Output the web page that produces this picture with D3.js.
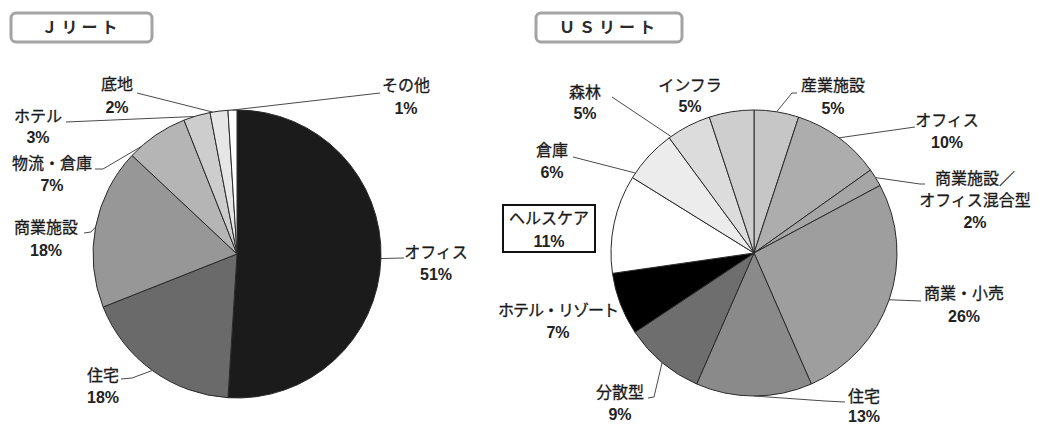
<!DOCTYPE html>
<html lang="ja">
<head>
<meta charset="utf-8">
<script src="https://cdn.jsdelivr.net/npm/d3@7"></script>
<style>
  html, body { margin: 0; padding: 0; background: #fff; }
  svg { display: block; }
  .name { font-family: "Noto Sans CJK JP", sans-serif; font-size: 16px; fill: #1a1a1a; stroke: #1a1a1a; stroke-width: 0.3px; }
  .pct { font-family: "Liberation Sans", Arial, sans-serif; font-size: 16px; font-weight: bold; fill: #222; }
  .title { font-family: "Noto Sans CJK JP", sans-serif; font-size: 16px; font-weight: bold; fill: #2a2a2a; }
</style>
</head>
<body>
<svg id="chart" width="1063" height="426"></svg>
<script>
// J-REIT holdings by property type (%)
const jCategories = ["オフィス", "住宅", "商業施設", "物流・倉庫", "ホテル", "底地", "その他"];
const jValues = [51, 18, 18, 7, 3, 2, 1];

// US-REIT holdings by property type (%)
const usCategories = ["産業施設", "オフィス", "商業施設／\nオフィス混合型", "商業・小売", "住宅", "分散型",
  "ホテル・リゾート", "ヘルスケア", "倉庫", "森林", "インフラ"];
const usValues = [5, 10, 2, 26, 13, 9, 7, 11, 6, 5, 5];

const titles = ["Ｊリート", "ＵＳリート"];

// slice fills
const jFills = ["#1b1b1b", "#6a6a6a", "#979797", "#b5b5b5", "#cdcdcd", "#e6e6e6", "#ffffff"];
const usFills = ["#c6c6c6", "#adadad", "#a6a6a6", "#9e9e9e", "#8a8a8a", "#6e6e6e",
  "#000000", "#ffffff", "#ececec", "#dcdcdc", "#cecece"];

// label placement: name centre (x, y), percent y, leader path from the label side, and
// t = where within the slice the leader meets the rim
const jLabels = [
  { x: 436, y: 252, py: 274, leader: [[404, 258]], t: 0.5 },
  { x: 103, y: 375, py: 397, leader: [[121, 379], [132, 378]], t: 0.5 },
  { x: 46,  y: 227, py: 250, leader: [[84, 233], [91, 232]], t: 0.5 },
  { x: 52,  y: 163, py: 185, leader: [[95, 169], [103, 169]], t: 0.2 },
  { x: 38,  y: 116, py: 137, leader: [[66, 122]], t: 0.4 },
  { x: 117, y: 84,  py: 107, leader: [[137, 93]], t: 0.15 },
  { x: 406, y: 85,  py: 108, leader: [[380, 93]], t: 0.5 }
];
const usLabels = [
  { x: 833, y: 85,  py: 108, leader: [[797, 93], [792, 93]], t: 0.5 },
  { x: 947, y: 120, py: 142, leader: [[915, 127]], t: 0.5 },
  { x: 975, y: 178, py: 222, leader: [[925, 184], [920, 184]], t: 0.5 },
  { x: 964, y: 293, py: 316, leader: [[921, 301]], t: 0.5 },
  { x: 864, y: 396, py: 416, leader: [[845, 402], [825, 401]], t: 0.5 },
  { x: 620, y: 392, py: 414, leader: [[648, 398], [654, 397]], t: 0.5 },
  { x: 558, y: 310, py: 332, leader: null, spacing: -1 },
  { x: 549, y: 218, py: 241, leader: null, boxed: true },
  { x: 552, y: 150, py: 172, leader: [[573, 157]], t: 0.1 },
  { x: 585, y: 92,  py: 113, leader: [[612, 97]], t: 0.05 },
  { x: 690, y: 85,  py: 106, leader: null }
];

const svg = d3.select("#chart");

function drawTitle(text, x, y, w, h) {
  const g = svg.append("g");
  g.append("rect")
    .attr("x", x).attr("y", y).attr("width", w).attr("height", h)
    .attr("rx", 5).attr("ry", 5)
    .attr("fill", "#fff").attr("stroke", "#a3a3a3").attr("stroke-width", 3);
  g.append("text").attr("class", "title")
    .attr("x", x + w / 2).attr("y", y + h / 2).attr("dy", "0.35em")
    .attr("text-anchor", "middle")
    .attr("letter-spacing", "4px")
    .text(text);
}

function drawPie(cats, vals, fills, labels, cx, cy, r) {
  const g = svg.append("g").attr("transform", `translate(${cx},${cy})`);
  const data = cats.map((c, i) => ({ cat: c, value: vals[i], fill: fills[i], lab: labels[i] }));
  const pie = d3.pie().value(d => d.value).sort(null);
  const arcs = pie(data);
  const arc = d3.arc().innerRadius(0).outerRadius(r);

  g.selectAll("path.slice").data(arcs).join("path")
    .attr("class", "slice")
    .attr("d", arc)
    .attr("fill", d => d.data.fill)
    .attr("stroke", "#2a2a2a")
    .attr("stroke-width", 1)
    .attr("stroke-linejoin", "round");

  const rim = d3.scaleLinear().domain([0, 1]);
  arcs.forEach(a => {
    const L = a.data.lab;
    if (L.leader) {
      rim.range([a.startAngle, a.endAngle]);
      const ang = rim(L.t);
      const px = cx + r * Math.sin(ang), py = cy - r * Math.cos(ang);
      const pts = L.leader.concat([[px, py]]);
      svg.append("path")
        .attr("d", d3.line()(pts))
        .attr("fill", "none").attr("stroke", "#4a4a4a").attr("stroke-width", 1);
    }
    if (L.boxed) {
      svg.append("rect")
        .attr("x", L.x - 46).attr("y", L.y - 13).attr("width", 92).attr("height", 47)
        .attr("fill", "#fff").attr("stroke", "#111").attr("stroke-width", 2);
    }
    const lines = a.data.cat.split("\n");
    const tg = svg.append("g");
    lines.forEach((ln, i) => {
      tg.append("text").attr("class", "name")
        .attr("x", L.x).attr("y", L.y + i * 22).attr("dy", "0.35em")
        .attr("text-anchor", "middle")
        .attr("letter-spacing", L.spacing ? L.spacing + "px" : null)
        .text(ln);
    });
    tg.append("text").attr("class", "pct")
      .attr("x", L.x).attr("y", L.py).attr("dy", "0.35em")
      .attr("text-anchor", "middle").text(a.data.value + "%");
  });
}

drawTitle(titles[0], 11, 13, 141, 29);
drawTitle(titles[1], 536, 13, 146, 29);

drawPie(jCategories, jValues, jFills, jLabels, 237, 254, 144);
drawPie(usCategories, usValues, usFills, usLabels, 754, 253, 143);
</script>
</body>
</html>
